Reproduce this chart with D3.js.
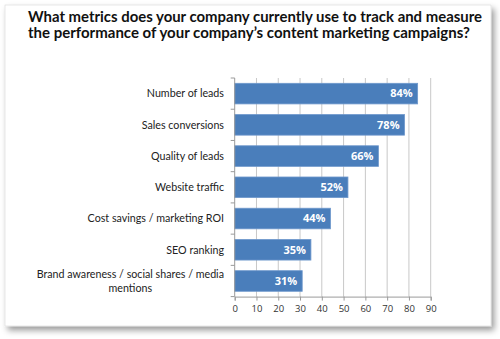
<!DOCTYPE html>
<html><head><meta charset="utf-8">
<script src="https://cdn.jsdelivr.net/npm/d3@7"></script>
<style>
html,body{margin:0;padding:0;background:#fff;}
</style></head>
<body>
<svg id="c" width="500" height="339"></svg>
<script>
const titleLines = ["What metrics does your company currently use to track and measure",
                    "the performance of your company\u2019s content marketing campaigns?"];
const categories = ["Number of leads","Sales conversions","Quality of leads","Website traffic",
                    "Cost savings / marketing ROI","SEO ranking","Brand awareness / social shares / media mentions"];
const categoryLines = [["Number of leads"],["Sales conversions"],["Quality of leads"],["Website traffic"],
                    ["Cost savings / marketing ROI"],["SEO ranking"],["Brand awareness / social shares / media","mentions"]];
const values = [84,78,66,52,44,35,31];
const xTicks = [0,10,20,30,40,50,60,70,80,90];

const svg = d3.select("#c");
const defs = svg.append("defs");
const f = defs.append("filter").attr("id","sh").attr("x","-10%").attr("y","-10%").attr("width","130%").attr("height","130%");
f.append("feDropShadow").attr("dx",3).attr("dy",4).attr("stdDeviation",3).attr("flood-color","#000").attr("flood-opacity",0.4);

svg.append("rect").attr("x",5).attr("y",5).attr("width",486).attr("height",321)
  .attr("fill","#fff").attr("stroke","#d8d8d8").attr("stroke-width",0.6).attr("filter","url(#sh)");

const titleW = [454, 442];
const title = svg.append("text").attr("font-family","Lato, sans-serif").attr("font-weight","bold")
  .attr("font-size",14.5).attr("fill","#111");
titleLines.forEach((t,i)=>title.append("tspan").attr("x",28).attr("y",22+i*15.5)
  .attr("textLength",titleW[i]).attr("lengthAdjust","spacingAndGlyphs").text(t));

const x = d3.scaleLinear().domain([0,90]).range([234.7,430.7]);
const y = d3.scaleBand().domain(categories).range([78,296.6]).paddingInner(0.34).paddingOuter(0.17);

// gridlines
svg.append("g").selectAll("line").data(xTicks.slice(1)).join("line")
  .attr("x1",d=>x(d)).attr("x2",d=>x(d)).attr("y1",78).attr("y2",296.6)
  .attr("stroke","#c8c8c8").attr("stroke-width",1);

// bars
svg.append("g").selectAll("rect").data(values).join("rect")
  .attr("x",x(0)).attr("y",(d,i)=>y(categories[i]))
  .attr("width",d=>x(d)-x(0)).attr("height",y.bandwidth())
  .attr("fill","#4a7ebb").attr("stroke","#6f98cc").attr("stroke-width",0.8);

// bar labels
svg.append("g").selectAll("text").data(values).join("text")
  .attr("x",d=>x(d)-5).attr("y",(d,i)=>y(categories[i])+y.bandwidth()/2)
  .attr("dy","0.35em").attr("text-anchor","end")
  .attr("font-family","Open Sans, sans-serif").attr("font-weight","bold").attr("font-size",11)
  .attr("fill","#fff").text(d=>d+"%");

// x axis
const xa = svg.append("g").attr("transform","translate(0,296.6)")
  .call(d3.axisBottom(x).tickValues(xTicks).tickSize(4).tickPadding(5));
xa.select(".domain").attr("stroke","#9a9a9a");
xa.selectAll(".tick line").attr("stroke","#9a9a9a");
xa.selectAll("text").attr("font-family","Open Sans, sans-serif").attr("font-size",9.5).attr("fill","#333");

// y axis line with band boundary ticks
const yg = svg.append("g");
yg.append("line").attr("x1",x(0)).attr("x2",x(0)).attr("y1",78).attr("y2",296.6).attr("stroke","#9a9a9a");
const bounds = d3.range(categories.length+1).map(i=>78+i*y.step());
yg.selectAll("line.t").data(bounds).join("line").attr("class","t")
  .attr("x1",x(0)-4).attr("x2",x(0)).attr("y1",d=>d).attr("y2",d=>d).attr("stroke","#9a9a9a");

// category labels
const cl = svg.append("g").selectAll("text").data(categoryLines).join("text")
  .attr("font-family","Lato, sans-serif").attr("font-size",10.7).attr("fill","#222")
  .attr("text-anchor","end");
cl.each(function(lines,i){
  const cy = y(categories[i])+y.bandwidth()/2;
  const n = lines.length;
  const sel = d3.select(this);
  lines.forEach((t,j)=>{
    sel.append("tspan").attr("x",224).attr("y",cy+(j-(n-1)/2)*14).attr("dy","0.35em")
      .attr("text-anchor", j===0?"end":"middle")
      .text(t);
  });
});
cl.filter(d=>d.length>1).each(function(lines){
  const ts = d3.select(this).selectAll("tspan").nodes();
  const w = ts[0].getComputedTextLength();
  d3.select(ts[1]).attr("x",224-w/2);
});
</script>
</body></html>
